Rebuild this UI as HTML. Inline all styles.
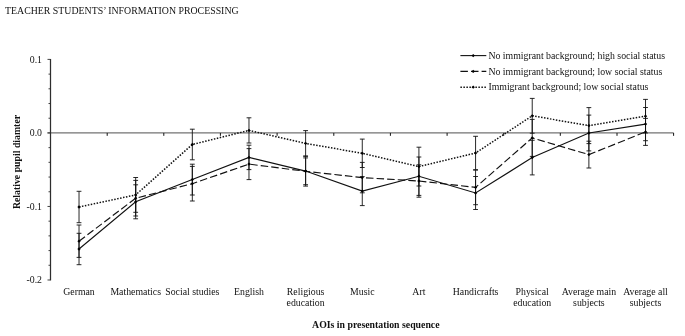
<!DOCTYPE html>
<html lang="en"><head><meta charset="utf-8"><title>Teacher students’ information processing</title>
<style>html,body{margin:0;padding:0;background:#fff}body{width:685px;height:336px;overflow:hidden}svg{display:block}text{font-family:'Liberation Serif','Times New Roman',serif;font-size:9.8px;fill:#111}</style>
</head><body>
<svg width="685" height="336" viewBox="0 0 685 336">
<rect width="685" height="336" fill="#fff"/>
<text x="5" y="13.7" style="font-size:9.85px">TEACHER STUDENTS’ INFORMATION PROCESSING</text>
<line x1="47.5" y1="132.93" x2="673.6" y2="132.93" stroke="#737373" stroke-width="1.35"/>
<line x1="107.2" y1="132.93" x2="107.2" y2="135.83" stroke="#111" stroke-width="1"/>
<line x1="163.8" y1="132.93" x2="163.8" y2="135.83" stroke="#111" stroke-width="1"/>
<line x1="220.4" y1="132.93" x2="220.4" y2="135.83" stroke="#111" stroke-width="1"/>
<line x1="277.1" y1="132.93" x2="277.1" y2="135.83" stroke="#111" stroke-width="1"/>
<line x1="333.8" y1="132.93" x2="333.8" y2="135.83" stroke="#111" stroke-width="1"/>
<line x1="390.4" y1="132.93" x2="390.4" y2="135.83" stroke="#111" stroke-width="1"/>
<line x1="447.1" y1="132.93" x2="447.1" y2="135.83" stroke="#111" stroke-width="1"/>
<line x1="503.7" y1="132.93" x2="503.7" y2="135.83" stroke="#111" stroke-width="1"/>
<line x1="560.3" y1="132.93" x2="560.3" y2="135.83" stroke="#111" stroke-width="1"/>
<line x1="617.0" y1="132.93" x2="617.0" y2="135.83" stroke="#111" stroke-width="1"/>
<line x1="673.6" y1="132.93" x2="673.6" y2="135.83" stroke="#111" stroke-width="1"/>
<line x1="50.5" y1="59.00000000000001" x2="50.5" y2="280.39" stroke="#2e2e2e" stroke-width="1.25"/>
<line x1="47.5" y1="59.40" x2="50.5" y2="59.40" stroke="#2e2e2e" stroke-width="0.9"/>
<line x1="48.5" y1="74.11" x2="50.5" y2="74.11" stroke="#2e2e2e" stroke-width="0.9"/>
<line x1="48.5" y1="88.81" x2="50.5" y2="88.81" stroke="#2e2e2e" stroke-width="0.9"/>
<line x1="48.5" y1="103.52" x2="50.5" y2="103.52" stroke="#2e2e2e" stroke-width="0.9"/>
<line x1="48.5" y1="118.22" x2="50.5" y2="118.22" stroke="#2e2e2e" stroke-width="0.9"/>
<line x1="47.5" y1="132.93" x2="50.5" y2="132.93" stroke="#2e2e2e" stroke-width="0.9"/>
<line x1="48.5" y1="147.64" x2="50.5" y2="147.64" stroke="#2e2e2e" stroke-width="0.9"/>
<line x1="48.5" y1="162.34" x2="50.5" y2="162.34" stroke="#2e2e2e" stroke-width="0.9"/>
<line x1="48.5" y1="177.05" x2="50.5" y2="177.05" stroke="#2e2e2e" stroke-width="0.9"/>
<line x1="48.5" y1="191.75" x2="50.5" y2="191.75" stroke="#2e2e2e" stroke-width="0.9"/>
<line x1="47.5" y1="206.46" x2="50.5" y2="206.46" stroke="#2e2e2e" stroke-width="0.9"/>
<line x1="48.5" y1="221.17" x2="50.5" y2="221.17" stroke="#2e2e2e" stroke-width="0.9"/>
<line x1="48.5" y1="235.87" x2="50.5" y2="235.87" stroke="#2e2e2e" stroke-width="0.9"/>
<line x1="48.5" y1="250.58" x2="50.5" y2="250.58" stroke="#2e2e2e" stroke-width="0.9"/>
<line x1="48.5" y1="265.28" x2="50.5" y2="265.28" stroke="#2e2e2e" stroke-width="0.9"/>
<line x1="47.5" y1="279.99" x2="50.5" y2="279.99" stroke="#2e2e2e" stroke-width="0.9"/>
<text x="42.0" y="62.6" text-anchor="end">0.1</text>
<text x="42.0" y="136.1" text-anchor="end">0.0</text>
<text x="42.0" y="209.7" text-anchor="end">-0.1</text>
<text x="42.0" y="283.2" text-anchor="end">-0.2</text>
<path d="M79.03 233.3V264.7M76.62 233.3h4.8M76.62 264.7h4.8" stroke="#111" stroke-width="0.9" fill="none"/>
<path d="M135.68 184.8V218.8M133.28 184.8h4.8M133.28 218.8h4.8" stroke="#111" stroke-width="0.9" fill="none"/>
<path d="M192.32 164.2V195.0M189.92 164.2h4.8M189.92 195.0h4.8" stroke="#111" stroke-width="0.9" fill="none"/>
<path d="M248.98 145.2V169.6M246.58 145.2h4.8M246.58 169.6h4.8" stroke="#111" stroke-width="0.9" fill="none"/>
<path d="M305.62 156.1V186.1M303.23 156.1h4.8M303.23 186.1h4.8" stroke="#111" stroke-width="0.9" fill="none"/>
<path d="M362.27 176.6V205.6M359.88 176.6h4.8M359.88 205.6h4.8" stroke="#111" stroke-width="0.9" fill="none"/>
<path d="M418.92 157.0V195.4M416.52 157.0h4.8M416.52 195.4h4.8" stroke="#111" stroke-width="0.9" fill="none"/>
<path d="M475.57 176.5V209.5M473.18 176.5h4.8M473.18 209.5h4.8" stroke="#111" stroke-width="0.9" fill="none"/>
<path d="M532.23 140.3V174.9M529.83 140.3h4.8M529.83 174.9h4.8" stroke="#111" stroke-width="0.9" fill="none"/>
<path d="M588.88 115.1V150.9M586.48 115.1h4.8M586.48 150.9h4.8" stroke="#111" stroke-width="0.9" fill="none"/>
<path d="M645.52 107.5V140.7M643.12 107.5h4.8M643.12 140.7h4.8" stroke="#111" stroke-width="0.9" fill="none"/>
<path d="M79.03 225.0V257.4M76.62 225.0h4.8M76.62 257.4h4.8" stroke="#111" stroke-width="0.9" fill="none"/>
<path d="M135.68 180.4V216.0M133.28 180.4h4.8M133.28 216.0h4.8" stroke="#111" stroke-width="0.9" fill="none"/>
<path d="M192.32 166.4V201.0M189.92 166.4h4.8M189.92 201.0h4.8" stroke="#111" stroke-width="0.9" fill="none"/>
<path d="M248.98 148.6V179.6M246.58 148.6h4.8M246.58 179.6h4.8" stroke="#111" stroke-width="0.9" fill="none"/>
<path d="M305.62 157.9V184.7M303.23 157.9h4.8M303.23 184.7h4.8" stroke="#111" stroke-width="0.9" fill="none"/>
<path d="M362.27 162.4V192.8M359.88 162.4h4.8M359.88 192.8h4.8" stroke="#111" stroke-width="0.9" fill="none"/>
<path d="M418.92 164.8V197.2M416.52 164.8h4.8M416.52 197.2h4.8" stroke="#111" stroke-width="0.9" fill="none"/>
<path d="M475.57 170.1V204.7M473.18 170.1h4.8M473.18 204.7h4.8" stroke="#111" stroke-width="0.9" fill="none"/>
<path d="M532.23 119.4V156.4M529.83 119.4h4.8M529.83 156.4h4.8" stroke="#111" stroke-width="0.9" fill="none"/>
<path d="M588.88 141.2V168.0M586.48 141.2h4.8M586.48 168.0h4.8" stroke="#111" stroke-width="0.9" fill="none"/>
<path d="M645.52 118.4V145.4M643.12 118.4h4.8M643.12 145.4h4.8" stroke="#111" stroke-width="0.9" fill="none"/>
<path d="M79.03 191.3V222.7M76.62 191.3h4.8M76.62 222.7h4.8" stroke="#111" stroke-width="0.9" fill="none"/>
<path d="M135.68 177.5V212.3M133.28 177.5h4.8M133.28 212.3h4.8" stroke="#111" stroke-width="0.9" fill="none"/>
<path d="M192.32 129.2V159.8M189.92 129.2h4.8M189.92 159.8h4.8" stroke="#111" stroke-width="0.9" fill="none"/>
<path d="M248.98 117.8V143.0M246.58 117.8h4.8M246.58 143.0h4.8" stroke="#111" stroke-width="0.9" fill="none"/>
<path d="M305.62 130.6V156.2M303.23 130.6h4.8M303.23 156.2h4.8" stroke="#111" stroke-width="0.9" fill="none"/>
<path d="M362.27 139.1V167.5M359.88 139.1h4.8M359.88 167.5h4.8" stroke="#111" stroke-width="0.9" fill="none"/>
<path d="M418.92 147.2V186.0M416.52 147.2h4.8M416.52 186.0h4.8" stroke="#111" stroke-width="0.9" fill="none"/>
<path d="M475.57 136.3V169.7M473.18 136.3h4.8M473.18 169.7h4.8" stroke="#111" stroke-width="0.9" fill="none"/>
<path d="M532.23 98.4V133.2M529.83 98.4h4.8M529.83 133.2h4.8" stroke="#111" stroke-width="0.9" fill="none"/>
<path d="M588.88 107.6V143.6M586.48 107.6h4.8M586.48 143.6h4.8" stroke="#111" stroke-width="0.9" fill="none"/>
<path d="M645.52 99.4V133.0M643.12 99.4h4.8M643.12 133.0h4.8" stroke="#111" stroke-width="0.9" fill="none"/>
<polyline points="79.0,249.0 135.7,201.8 192.3,179.6 249.0,157.4 305.6,171.1 362.3,191.1 418.9,176.2 475.6,193.0 532.2,157.6 588.9,133.0 645.5,124.1" fill="none" stroke="#111" stroke-width="1.1"/>
<path d="M77.38 249.00L79.03 247.35L80.68 249.00L79.03 250.65Z" fill="#000"/>
<path d="M134.03 201.80L135.68 200.15L137.33 201.80L135.68 203.45Z" fill="#000"/>
<path d="M190.67 179.60L192.32 177.95L193.97 179.60L192.32 181.25Z" fill="#000"/>
<path d="M247.33 157.40L248.98 155.75L250.63 157.40L248.98 159.05Z" fill="#000"/>
<path d="M303.98 171.10L305.62 169.45L307.27 171.10L305.62 172.75Z" fill="#000"/>
<path d="M360.62 191.10L362.27 189.45L363.92 191.10L362.27 192.75Z" fill="#000"/>
<path d="M417.27 176.20L418.92 174.55L420.57 176.20L418.92 177.85Z" fill="#000"/>
<path d="M473.93 193.00L475.57 191.35L477.22 193.00L475.57 194.65Z" fill="#000"/>
<path d="M530.58 157.60L532.23 155.95L533.88 157.60L532.23 159.25Z" fill="#000"/>
<path d="M587.23 133.00L588.88 131.35L590.52 133.00L588.88 134.65Z" fill="#000"/>
<path d="M643.88 124.10L645.52 122.45L647.17 124.10L645.52 125.75Z" fill="#000"/>
<polyline points="79.0,241.2 135.7,198.2 192.3,183.7 249.0,164.1 305.6,171.3 362.3,177.6 418.9,181.0 475.6,187.4 532.2,137.9 588.9,154.6 645.5,131.9" fill="none" stroke="#111" stroke-width="1.15" stroke-dasharray="7.5 3.1"/>
<path d="M77.38 241.20L79.03 239.55L80.68 241.20L79.03 242.85Z" fill="#000"/>
<path d="M134.03 198.20L135.68 196.55L137.33 198.20L135.68 199.85Z" fill="#000"/>
<path d="M190.67 183.70L192.32 182.05L193.97 183.70L192.32 185.35Z" fill="#000"/>
<path d="M247.33 164.10L248.98 162.45L250.63 164.10L248.98 165.75Z" fill="#000"/>
<path d="M303.98 171.30L305.62 169.65L307.27 171.30L305.62 172.95Z" fill="#000"/>
<path d="M360.62 177.60L362.27 175.95L363.92 177.60L362.27 179.25Z" fill="#000"/>
<path d="M417.27 181.00L418.92 179.35L420.57 181.00L418.92 182.65Z" fill="#000"/>
<path d="M473.93 187.40L475.57 185.75L477.22 187.40L475.57 189.05Z" fill="#000"/>
<path d="M530.58 137.90L532.23 136.25L533.88 137.90L532.23 139.55Z" fill="#000"/>
<path d="M587.23 154.60L588.88 152.95L590.52 154.60L588.88 156.25Z" fill="#000"/>
<path d="M643.88 131.90L645.52 130.25L647.17 131.90L645.52 133.55Z" fill="#000"/>
<polyline points="79.0,207.0 135.7,194.9 192.3,144.5 249.0,130.4 305.6,143.4 362.3,153.3 418.9,166.6 475.6,153.0 532.2,115.8 588.9,125.6 645.5,116.2" fill="none" stroke="#111" stroke-width="1.5" stroke-dasharray="1.5 1.5"/>
<path d="M77.38 207.00L79.03 205.35L80.68 207.00L79.03 208.65Z" fill="#000"/>
<path d="M134.03 194.90L135.68 193.25L137.33 194.90L135.68 196.55Z" fill="#000"/>
<path d="M190.67 144.50L192.32 142.85L193.97 144.50L192.32 146.15Z" fill="#000"/>
<path d="M247.33 130.40L248.98 128.75L250.63 130.40L248.98 132.05Z" fill="#000"/>
<path d="M303.98 143.40L305.62 141.75L307.27 143.40L305.62 145.05Z" fill="#000"/>
<path d="M360.62 153.30L362.27 151.65L363.92 153.30L362.27 154.95Z" fill="#000"/>
<path d="M417.27 166.60L418.92 164.95L420.57 166.60L418.92 168.25Z" fill="#000"/>
<path d="M473.93 153.00L475.57 151.35L477.22 153.00L475.57 154.65Z" fill="#000"/>
<path d="M530.58 115.80L532.23 114.15L533.88 115.80L532.23 117.45Z" fill="#000"/>
<path d="M587.23 125.60L588.88 123.95L590.52 125.60L588.88 127.25Z" fill="#000"/>
<path d="M643.88 116.20L645.52 114.55L647.17 116.20L645.52 117.85Z" fill="#000"/>
<line x1="460.4" y1="55.6" x2="486.3" y2="55.6" stroke="#111" stroke-width="1.1"/>
<path d="M471.55 55.60L473.20 53.95L474.85 55.60L473.20 57.25Z" fill="#000"/>
<text x="488.4" y="58.8">No immigrant background; high social status</text>
<line x1="460.4" y1="71.4" x2="486.3" y2="71.4" stroke="#111" stroke-width="1.15" stroke-dasharray="7.5 3.1"/>
<path d="M471.55 71.40L473.20 69.75L474.85 71.40L473.20 73.05Z" fill="#000"/>
<text x="488.4" y="74.6">No immigrant background; low social status</text>
<line x1="460.4" y1="87.2" x2="486.3" y2="87.2" stroke="#111" stroke-width="1.5" stroke-dasharray="1.5 1.5"/>
<path d="M471.55 87.20L473.20 85.55L474.85 87.20L473.20 88.85Z" fill="#000"/>
<text x="488.4" y="90.4">Immigrant background; low social status</text>
<text x="79.0" y="294.6" text-anchor="middle">German</text>
<text x="135.7" y="294.6" text-anchor="middle">Mathematics</text>
<text x="192.3" y="294.6" text-anchor="middle">Social studies</text>
<text x="249.0" y="294.6" text-anchor="middle">English</text>
<text x="305.6" y="294.6" text-anchor="middle">Religious</text>
<text x="305.6" y="306.1" text-anchor="middle">education</text>
<text x="362.3" y="294.6" text-anchor="middle">Music</text>
<text x="418.9" y="294.6" text-anchor="middle">Art</text>
<text x="475.6" y="294.6" text-anchor="middle">Handicrafts</text>
<text x="532.2" y="294.6" text-anchor="middle">Physical</text>
<text x="532.2" y="306.1" text-anchor="middle">education</text>
<text x="588.9" y="294.6" text-anchor="middle">Average main</text>
<text x="588.9" y="306.1" text-anchor="middle">subjects</text>
<text x="645.5" y="294.6" text-anchor="middle">Average all</text>
<text x="645.5" y="306.1" text-anchor="middle">subjects</text>
<text x="375.8" y="328" text-anchor="middle" style="font-weight:bold;font-size:9.8px">AOIs in presentation sequence</text>
<text transform="translate(19.6,162) rotate(-90)" text-anchor="middle" style="font-weight:bold;font-size:9.8px">Relative pupil diamter</text>
</svg></body></html>
